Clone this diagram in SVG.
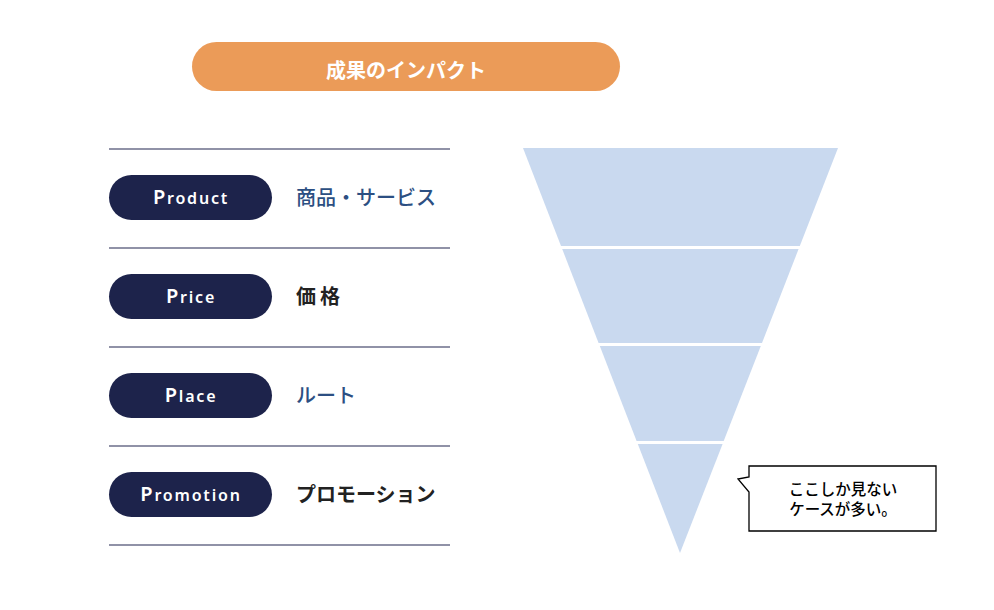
<svg xmlns="http://www.w3.org/2000/svg" width="994" height="610" viewBox="0 0 994 610">
<style>
.sep{stroke:#6b6e8a;stroke-width:1.6}
.pill{fill:#1d234b}
.pl{font-family:"Noto Sans","Liberation Sans",sans-serif;font-size:16px;font-weight:600;fill:#fff;letter-spacing:1.8px;text-anchor:middle}
.pl .cap{font-size:20px}
.jb{font-family:"Noto Sans CJK JP",sans-serif;font-size:20px;font-weight:500;fill:#2c4f82}
.jk{font-family:"Noto Sans CJK JP",sans-serif;font-size:20px;font-weight:700;fill:#222}
.fun{fill:#c9d9ef}
.ct{font-family:"Noto Sans CJK JP",sans-serif;font-size:15.5px;font-weight:500;fill:#000;text-anchor:middle}
</style>
<g id="header">
<rect x="192" y="42" width="428" height="49" rx="24.5" fill="#eb9b58"/>
<text x="406" y="78" font-family="Noto Sans CJK JP,sans-serif" font-size="20" font-weight="700" fill="#fff" text-anchor="middle">成果のインパクト</text>
</g>
<g id="separators">
<line class="sep" x1="109" y1="149" x2="450" y2="149"/>
<line class="sep" x1="109" y1="248" x2="450" y2="248"/>
<line class="sep" x1="109" y1="347" x2="450" y2="347"/>
<line class="sep" x1="109" y1="446" x2="450" y2="446"/>
<line class="sep" x1="109" y1="545" x2="450" y2="545"/>
</g>
<g id="product">
<rect class="pill" x="109" y="175" width="163" height="45" rx="22.5"/>
<text class="pl" x="191" y="204"><tspan class="cap">P</tspan>roduct</text>
<text class="jb" x="296" y="205">商品・サービス</text>
</g>
<g id="price">
<rect class="pill" x="109" y="274" width="163" height="45" rx="22.5"/>
<text class="pl" x="191" y="303"><tspan class="cap">P</tspan>rice</text>
<text class="jk" x="296" y="304" letter-spacing="4">価格</text>
</g>
<g id="place">
<rect class="pill" x="109" y="373" width="163" height="45" rx="22.5"/>
<text class="pl" x="191" y="402"><tspan class="cap">P</tspan>lace</text>
<text class="jb" x="296" y="403">ルート</text>
</g>
<g id="promotion">
<rect class="pill" x="109" y="472" width="163" height="45" rx="22.5"/>
<text class="pl" x="191" y="501"><tspan class="cap">P</tspan>romotion</text>
<text class="jk" x="296" y="502" font-size="18.6">プロモーション</text>
</g>
<g id="funnel">
<polygon class="fun" points="523,148 838,148 799.8,246 561,246"/>
<polygon class="fun" points="562.2,249 798.6,249 762,343 598.6,343"/>
<polygon class="fun" points="599.8,346 760.8,346 723.7,441 636.6,441"/>
<polygon class="fun" points="637.8,444 722.6,444 680,553"/>
</g>
<g id="callout">
<path d="M749,466 H936 V531 H749 V492 L738,479 L749,477 Z" fill="#fff" stroke="#000" stroke-width="1.3"/>
<text class="ct" x="843" y="495">ここしか見ない</text>
<text class="ct" x="843" y="515">ケースが多い。</text>
</g>
<g id="connectors"></g>
</svg>
